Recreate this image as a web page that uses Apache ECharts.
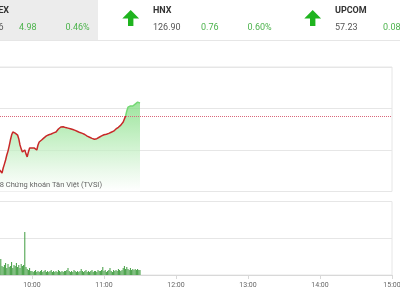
<!DOCTYPE html>
<html>
<head>
<meta charset="utf-8">
<script src="https://cdn.jsdelivr.net/npm/echarts@6/dist/echarts.min.js"></script>
<style>
html,body{margin:0;padding:0;background:#fff;}
#c{width:400px;height:300px;}
</style>
</head>
<body>
<div id="c"></div>
<script>
// ---- data ----
const startMinute = 573; // 09:33, one point per minute
const hourLabels = ['09:00','10:00','11:00','12:00','13:00','14:00','15:00'];
const refLevel = 1077.3;
const priceValues = [
1057.8,1057.4,1056.7,1058.5,1059.9,1061.4,1063.2,1064.6,1066.5,1068.6,
1070.4,1071.5,1071.5,1071.1,1071.5,1070.4,1069.0,1066.8,1065.4,1064.3,
1063.9,1065.0,1063.6,1062.5,1064.3,1065.7,1066.1,1065.7,1066.1,1065.7,
1066.1,1065.0,1066.8,1067.9,1067.2,1068.6,1068.3,1069.4,1069.0,1070.1,
1069.6,1070.5,1070.0,1070.8,1070.3,1071.2,1070.8,1071.5,1071.9,1072.6,
1072.2,1073.3,1072.6,1073.4,1072.8,1073.1,1072.4,1072.9,1072.2,1072.7,
1072.0,1072.4,1071.7,1072.1,1071.4,1071.7,1071.0,1071.3,1070.6,1071.0,
1070.3,1070.6,1069.9,1070.0,1069.5,1069.6,1069.0,1069.2,1068.6,1068.9,
1069.3,1069.1,1069.8,1069.6,1070.2,1070.1,1070.6,1070.5,1071.0,1070.7,
1071.3,1071.0,1071.6,1071.4,1072.0,1071.8,1072.4,1072.6,1073.1,1073.2,
1073.8,1074.0,1074.5,1075.1,1075.8,1077.3,1079.1,1080.5,1080.9,1080.9,
1081.3,1080.9,1081.3,1081.6,1081.6,1082.3,1082.3,1082.0
];
const volumeValues = [ // thousands of shares
650,870,490,435,545,650,380,600,435,490,710,380,545,490,650,435,545,380,600,490,545,
2340,
435,330,270,380,220,
220,160,220,270,160,220,160,220,270,160,
220,270,160,220,160,220,270,160,220,160,
220,160,270,220,160,220,160,220,220,270,
380,220,160,220,160,270,220,160,220,160,
220,330,220,160,220,270,160,220,160,220,
270,160,220,220,160,270,220,220,270,435,
220,270,160,220,270,380,220,160,270,220,
270,220,330,270,220,270,380,490,330,435,
330,270,380,270,330,270,330,270,330,270,270
];
const indexNames = ['VN-INDEX','HNX','UPCOM'];
const indexValues = ['1087.56','126.90','57.23'];
const indexChanges = ['4.98','0.76','0.08'];
const indexPcts = ['0.46%','0.60%','0.05%'];

// ---- build ----
const priceData = priceValues.map((v,i)=>[startMinute+i, v]);
const volData = volumeValues.map((v,i)=>[startMinute+i, v]);

const green = '#4cb34c';
const graphics = [];
graphics.push({type:'rect', shape:{x:0,y:0,width:98,height:40}, style:{fill:'#ececec'}, z:0});
graphics.push({type:'rect', shape:{x:0,y:40,width:400,height:1}, style:{fill:'#e6e6e6'}, z:0});
const colX = [-29, 153, 335];
colX.forEach((bx, k)=>{
  if (k === 0) {
    graphics.push({type:'text', style:{text:indexNames[k], x:9, y:11, textAlign:'right', align:'right', textVerticalAlign:'middle', verticalAlign:'middle', font:'bold 9px Roboto', fill:'#333'}, z:5});
    graphics.push({type:'text', style:{text:indexValues[k], x:3.5, y:28, textAlign:'right', align:'right', textVerticalAlign:'middle', verticalAlign:'middle', font:'9px Roboto', fill:'#555'}, z:5});
  } else {
    graphics.push({type:'text', style:{text:indexNames[k], x:bx, y:11, textVerticalAlign:'middle', verticalAlign:'middle', font:'bold 9px Roboto', fill:'#333'}, z:5});
    graphics.push({type:'text', style:{text:indexValues[k], x:bx, y:28, textVerticalAlign:'middle', verticalAlign:'middle', font:'9px Roboto', fill:'#555'}, z:5});
    const cx = bx - 22.3;
    graphics.push({type:'polygon', shape:{points:[[cx,10],[cx+8.4,18.5],[cx+2.7,18.5],[cx+2.7,26],[cx-2.7,26],[cx-2.7,18.5],[cx-8.4,18.5]]}, style:{fill:'#1fb41f'}, z:5});
  }
  graphics.push({type:'text', style:{text:indexChanges[k], x:bx+48, y:28, textVerticalAlign:'middle', verticalAlign:'middle', font:'9px Roboto', fill:green}, z:5});
  graphics.push({type:'text', style:{text:indexPcts[k], x:bx+94.5, y:28, textVerticalAlign:'middle', verticalAlign:'middle', font:'9px Roboto', fill:green}, z:5});
});
graphics.push({type:'text', style:{text:'© 2018 Chứng khoán Tân Việt (TVSI)', x:102, y:185, textAlign:'right', align:'right', textVerticalAlign:'middle', verticalAlign:'middle', font:'7.5px Roboto', fill:'#666'}, z:50});

const chart = echarts.init(document.getElementById('c'), null, {renderer:'canvas'});
const option = {
  animation:false,
  backgroundColor:'#fff',
  graphic: graphics,
  grid:[
    {left:-40, right:8, top:67, bottom:108.5, show:true, borderColor:'#e6e6e6', borderWidth:1, containLabel:false, outerBoundsMode:'none'},
    {left:-40, right:8, top:201.5, bottom:25, show:true, borderColor:'#e6e6e6', borderWidth:1, containLabel:false, outerBoundsMode:'none'}
  ],
  xAxis:[
    {type:'value', gridIndex:0, min:540, max:900, interval:60, axisLine:{show:false}, axisTick:{show:false}, axisLabel:{show:false}, splitLine:{show:false}},
    {type:'value', gridIndex:1, min:540, max:900, interval:60,
     axisLine:{show:true, lineStyle:{color:'#d8d8d8'}},
     axisTick:{show:true, length:4, lineStyle:{color:'#d8d8d8'}},
     axisLabel:{show:true, fontSize:7, color:'#666', fontFamily:'Roboto', margin:7,
       formatter:(v)=>hourLabels[Math.round((v-540)/60)]},
     splitLine:{show:false}}
  ],
  yAxis:[
    {type:'value', gridIndex:0, min:1050, max:1095, interval:15, axisLine:{show:false}, axisTick:{show:false}, axisLabel:{show:false}, splitLine:{show:true, lineStyle:{color:'#e6e6e6'}}},
    {type:'value', gridIndex:1, min:0, max:4000, interval:2000, axisLine:{show:false}, axisTick:{show:false}, axisLabel:{show:false}, splitLine:{show:true, lineStyle:{color:'#e6e6e6'}}}
  ],
  series:[
    {type:'line', xAxisIndex:0, yAxisIndex:0, data:priceData, showSymbol:false, symbol:'none',
     lineStyle:{width:1.5, color:'#c82828'},
     areaStyle:{origin:'start', color:new echarts.graphic.LinearGradient(0,0,0,1,[
       {offset:0, color:'#74d874'},{offset:0.35, color:'#a6e8a6'},{offset:0.75, color:'#e0f6e0'},{offset:1, color:'#ffffff'}])},
     markLine:{silent:true, symbol:'none', label:{show:false},
       lineStyle:{color:'#d9667a', type:[1,1], width:1},
       data:[{yAxis:refLevel}]},
     z:3},
    {type:'bar', xAxisIndex:1, yAxisIndex:1, data:volData, barWidth:1, itemStyle:{color:'#3f9c3f'}, z:3}
  ]
};
chart.setOption(option);
// line colour: red below the reference level, green above it
const yRef = chart.convertToPixel({xAxisIndex:0, yAxisIndex:0}, [600, refLevel])[1];
const f = yRef / 300;
chart.setOption({series:[{lineStyle:{color:new echarts.graphic.LinearGradient(0,0,0,300,[
  {offset:0, color:'#74d874'},{offset:f, color:'#74d874'},{offset:f, color:'#c82828'},{offset:1, color:'#c82828'}], true)}}]});
</script>
</body>
</html>
